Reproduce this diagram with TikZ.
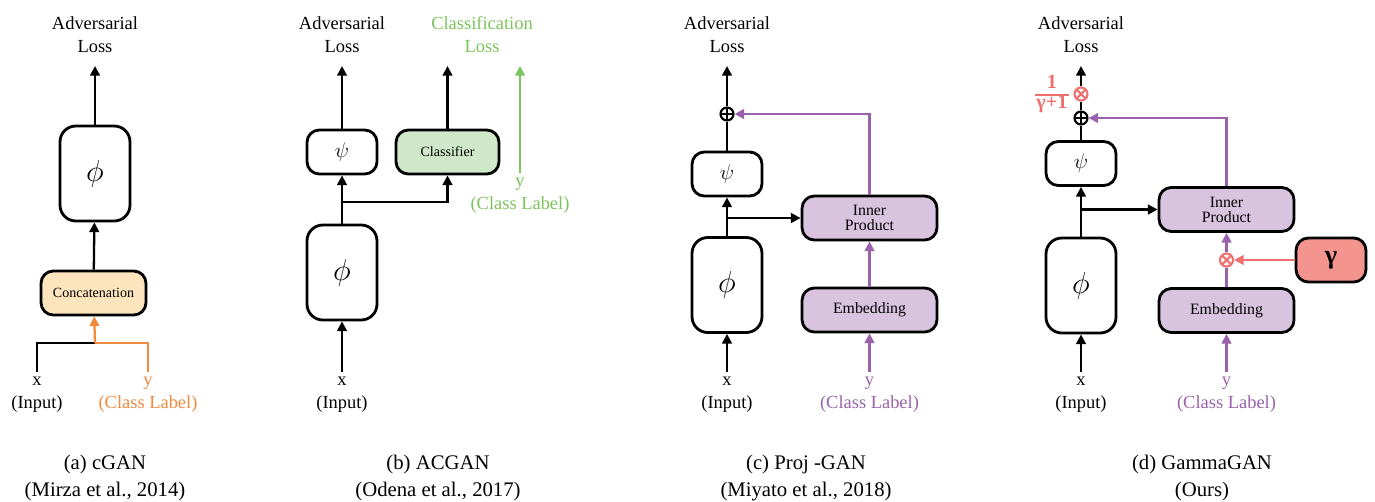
\documentclass[tikz,border=0pt]{standalone}
\usepackage{fontspec}
\setmainfont{Liberation Serif}
\usetikzlibrary{arrows.meta,positioning}

\definecolor{orangeln}{HTML}{F08A3C}
\definecolor{orangefill}{HTML}{FCE4BD}
\definecolor{greenln}{HTML}{7CC35C}
\definecolor{greenfill}{HTML}{CFE8C9}
\definecolor{purpleln}{HTML}{9A62AA}
\definecolor{purplefill}{HTML}{D9C4DF}
\definecolor{redln}{HTML}{F06E6E}
\definecolor{redfill}{HTML}{F4948F}

\tikzset{
  blk/.style={draw, line width=1.6pt, rounded corners=7pt, inner sep=0pt,
    minimum width=1.4cm, minimum height=0.88cm, font=\fontsize{13}{13}\selectfont},
  bigblk/.style={blk, rounded corners=9pt, minimum height=1.9cm, font=\fontsize{19}{19}\selectfont},
  wideblk/.style={blk, fill=purplefill, minimum width=2.7cm, align=center, font=\fontsize{9}{8.5}\selectfont},
  lbl/.style={align=center, inner sep=1pt, font=\fontsize{10.5}{13}\selectfont},
  inlbl/.style={lbl, anchor=north, inner ysep=2.5pt},
  captxt/.style={align=center, inner sep=1pt, font=\fontsize{11.8}{15.2}\selectfont},
  flow/.style={line width=1.3pt, -{Triangle[length=5.5pt,width=5.5pt]}},
  wire/.style={line width=1.3pt},
  opsym/.style={circle, draw, line width=1.2pt, minimum size=0.26cm, inner sep=0pt},
  oplus/.style={opsym, path picture={\draw[line width=1.2pt]
    (path picture bounding box.north) -- (path picture bounding box.south)
    (path picture bounding box.west) -- (path picture bounding box.east);}},
  otimes/.style={opsym, path picture={\draw[line width=1.2pt]
    ([shift={(45:0.13cm)}]path picture bounding box.center) -- ([shift={(225:0.13cm)}]path picture bounding box.center)
    ([shift={(135:0.13cm)}]path picture bounding box.center) -- ([shift={(-45:0.13cm)}]path picture bounding box.center);}},
}

\begin{document}
\begin{tikzpicture}[x=0.02cm, y=-0.02cm]
  \useasboundingbox (0,0) rectangle (1375,501);

  \node[lbl] (advA) at (95,35) {Adversarial\\Loss};
  \node[bigblk] (phiA) at (95,173.5) {$\phi$};
  \node[blk, fill=orangefill, minimum width=2.1cm, font=\fontsize{8}{9}\selectfont] (catA) at (93.5,293) {Concatenation};
  \node[inlbl] (xA) at (37,372) {x\\(Input)};
  \node[inlbl, text=orangeln] (yA) at (148,372) {y\\(Class Label)};
  \node[captxt] (capA) at (105,478) {(a) cGAN\\(Mirza et al., 2014)};
  \coordinate (topA) at (95,66);
  \coordinate (jA) at (95,343);
  \draw[wire] (xA) |- (jA);
  \draw[wire, orangeln] (yA) |- (jA);
  \draw[flow, orangeln] (jA) -- (catA);
  \draw[flow] (catA) -- (phiA);
  \draw[flow] (phiA) -- (topA);

  \node[lbl] (advB) at (342,35) {Adversarial\\Loss};
  \node[lbl, text=greenln] (clsB) at (482,35) {Classification\\Loss};
  \node[blk] (psiB) at (342,152) {$\psi$};
  \node[blk, fill=greenfill, minimum width=2.06cm, font=\fontsize{8}{9}\selectfont] (clfB) at (447.5,152) {Classifier};
  \node[bigblk] (phiB) at (342,272.5) {$\phi$};
  \node[inlbl] (xB) at (342,372) {x\\(Input)};
  \node[inlbl, text=greenln] (yB) at (520,173) {y\\(Class Label)};
  \node[captxt] (capB) at (438,478) {(b) ACGAN\\(Odena et al., 2017)};
  \coordinate (topB) at (342,66);
  \coordinate (topB2) at (447.5,66);
  \coordinate (topB3) at (520,66);
  \coordinate (jB) at (342,202);
  \draw[flow] (xB) -- (phiB);
  \draw[wire] (phiB) -- (jB);
  \draw[flow] (jB) -- (psiB);
  \draw[flow] (jB) -| (clfB);
  \draw[flow] (psiB) -- (topB);
  \draw[flow] (clfB) -- (topB2);
  \draw[flow, greenln] (yB) -- (topB3);

  \node[lbl] (advC) at (727,35) {Adversarial\\Loss};
  \node[oplus] (sumC) at (727,114) {};
  \node[blk] (psiC) at (727,174) {$\psi$};
  \node[wideblk] (ipC) at (869.5,218) {Inner\\Product};
  \node[bigblk] (phiC) at (727,285) {$\phi$};
  \node[wideblk] (embC) at (869.5,310) {Embedding};
  \node[inlbl] (xC) at (727,372) {x\\(Input)};
  \node[inlbl, text=purpleln] (yC) at (869.5,372) {y\\(Class Label)};
  \node[captxt] (capC) at (806,478) {(c) Proj -GAN\\(Miyato et al., 2018)};
  \coordinate (topC) at (727,66);
  \coordinate (jC) at (727,218);
  \draw[flow] (xC) -- (phiC);
  \draw[wire] (phiC) -- (jC);
  \draw[flow] (jC) -- (psiC);
  \draw[flow] (jC) -- (ipC);
  \draw[wire] (psiC) -- (sumC);
  \draw[flow] (sumC) -- (topC);
  \draw[flow, purpleln] (ipC) |- (sumC);
  \draw[flow, purpleln] (embC) -- (ipC);
  \draw[flow, purpleln] (yC) -- (embC);

  \node[lbl] (advD) at (1081,35) {Adversarial\\Loss};
  \node[otimes, color=redln] (mulD) at (1081,94) {};
  \node[text=redln, inner sep=0pt, font=\fontsize{11.5}{11.5}\selectfont\bfseries] (fracD) at (1052,95)
    {\setlength\tabcolsep{1pt}\setlength\arrayrulewidth{0.6pt}\renewcommand\arraystretch{0.95}\begin{tabular}{c}1\\\hline γ+1\end{tabular}};
  \node[oplus] (sumD) at (1081,118) {};
  \node[blk] (psiD) at (1081,163.5) {$\psi$};
  \node[wideblk] (ipD) at (1226.5,209.5) {Inner\\Product};
  \node[otimes, color=redln] (mulD2) at (1226.5,260) {};
  \node[blk, fill=redfill, font=\fontsize{15}{15}\selectfont\bfseries] (gamD) at (1331,260) {γ};
  \node[bigblk] (phiD) at (1081,285.5) {$\phi$};
  \node[wideblk] (embD) at (1226.5,310.5) {Embedding};
  \node[inlbl] (xD) at (1081,372) {x\\(Input)};
  \node[inlbl, text=purpleln] (yD) at (1226.5,372) {y\\(Class Label)};
  \node[captxt] (capD) at (1202,478) {(d) GammaGAN\\(Ours)};
  \coordinate (topD) at (1081,66);
  \coordinate (jD) at (1081,209.5);
  \draw[flow] (xD) -- (phiD);
  \draw[wire] (phiD) -- (jD);
  \draw[flow] (jD) -- (psiD);
  \draw[flow] (jD) -- (ipD);
  \draw[wire] (psiD) -- (sumD);
  \draw[wire] (sumD) -- (mulD);
  \draw[flow] (mulD) -- (topD);
  \draw[flow, purpleln] (ipD) |- (sumD);
  \draw[wire, purpleln] (embD) -- (mulD2);
  \draw[flow, purpleln] (mulD2) -- (ipD);
  \draw[flow, redln] (gamD) -- (mulD2);
  \draw[flow, purpleln] (yD) -- (embD);
\end{tikzpicture}
\end{document}
